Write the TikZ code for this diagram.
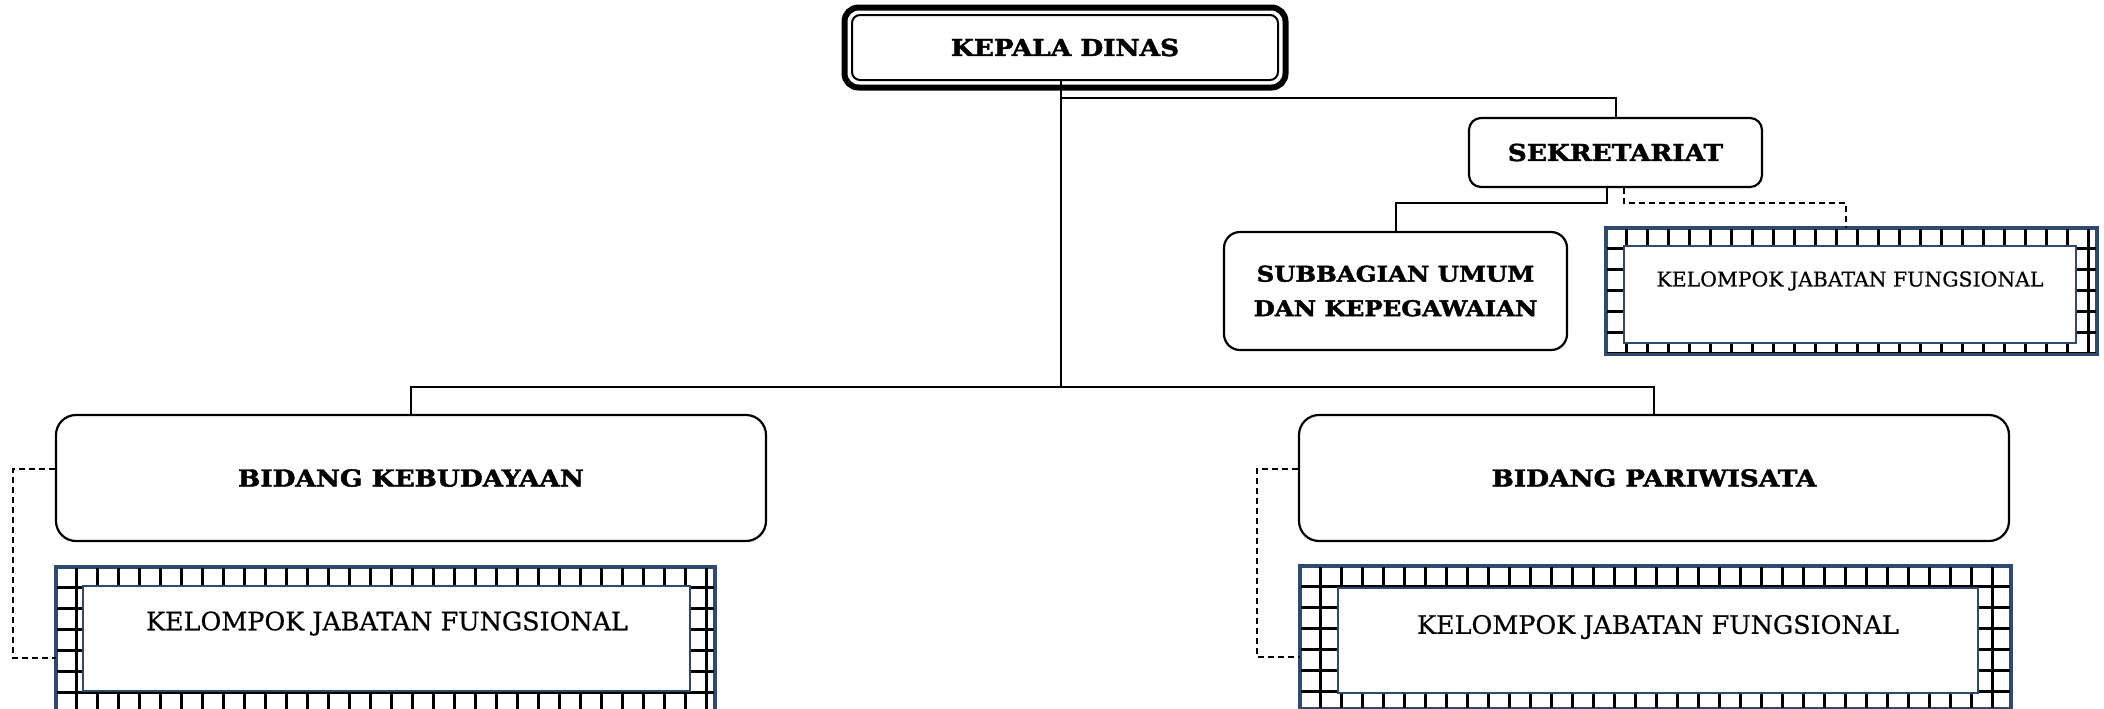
\documentclass[tikz,border=0pt]{standalone}
\usepackage{fontspec}
\newfontfamily\labfont[FakeStretch=1.13, BoldFeatures={FakeBold=2}]{DejaVu Serif}
\newfontfamily\kjffont[FakeBold=0.6]{DejaVu Serif}
\definecolor{kjfblue}{HTML}{2E4A6E}
\newcommand\kjfgrid[1]{%
  \begin{scope}
    \clip (#1.north west) rectangle (#1.south east);
    \foreach \i in {1,...,36} \draw[gridln] ([xshift=\i*10.5pt]#1.north west) -- ([xshift=\i*10.5pt]#1.south west);
    \foreach \j in {1,...,7} \draw[gridln] ([yshift=-\j*10.5pt]#1.north west) -- ([yshift=-\j*10.5pt]#1.north east);
  \end{scope}
  \draw[kjfblue, line width=1.3pt] (#1.north west) rectangle (#1.south east);
}
\begin{document}
\begin{tikzpicture}[x=0.5pt,y=-0.5pt,
  conn/.style={line width=1pt},
  dconn/.style={line width=0.9pt, dash pattern=on 3pt off 2pt},
  unitbox/.style={draw, line width=1.1pt, fill=white, font=\labfont\bfseries\fontsize{11.66}{17.25}\selectfont, align=center, inner sep=0pt},
  kjfouter/.style={draw=kjfblue, line width=1.3pt, fill=white, inner sep=0pt},
  kjfinner/.style={draw=kjfblue, line width=1.1pt, fill=white, inner sep=0pt},
  gridln/.style={line width=1.4pt, black},
  kjftext/.style={font=\kjffont\fontsize{12.7}{15}\selectfont, inner sep=0pt},
]
\useasboundingbox (0,0) rectangle (2104,708);

% Kepala Dinas
\node[unitbox, line width=1pt, rounded corners=4pt, minimum width=213pt, minimum height=32.5pt] (kd) at (1065,47.5) {KEPALA DINAS};
\draw[line width=3pt, rounded corners=7pt] ([shift={(-6.5,-6.5)}]kd.north west) rectangle ([shift={(6.5,6.5)}]kd.south east);

% Sekretariat and children
\node[unitbox, rounded corners=6pt, minimum width=146.5pt, minimum height=34.5pt] (sek) at (1615.5,152.5) {SEKRETARIAT};
\node[unitbox, rounded corners=8pt, minimum width=171.5pt, minimum height=59pt, font=\labfont\bfseries\fontsize{10.8}{17.25}\selectfont] (sub) at (1395.5,291) {SUBBAGIAN UMUM\\DAN KEPEGAWAIAN};

\node[kjfouter, minimum width=244.5pt, minimum height=62pt] (kjfA) at (1851.5,291) {};
\kjfgrid{kjfA}
\node[kjfinner, minimum width=226pt, minimum height=48.5pt] (kjfAi) at (1850,294.5) {};
\node[kjftext, font=\kjffont\fontsize{10.2}{12}\selectfont] (kjfAt) at (1850,281) {KELOMPOK JABATAN FUNGSIONAL};

% Bidang
\node[unitbox, rounded corners=10pt, minimum width=355pt, minimum height=63pt] (bk) at (411,478) {BIDANG KEBUDAYAAN};
\node[unitbox, rounded corners=10pt, minimum width=355pt, minimum height=63pt] (bp) at (1654,478) {BIDANG PARIWISATA};

\node[kjfouter, minimum width=328.5pt, minimum height=71pt] (kjfB) at (385.5,639) {};
\kjfgrid{kjfB}
\node[kjfinner, minimum width=303.5pt, minimum height=52.5pt] (kjfBi) at (386.5,638.5) {};
\node[kjftext] (kjfBt) at (387,623.5) {KELOMPOK JABATAN FUNGSIONAL};

\node[kjfouter, minimum width=354.5pt, minimum height=70.5pt] (kjfC) at (1655.5,637.5) {};
\kjfgrid{kjfC}
\node[kjfinner, minimum width=320pt, minimum height=52.5pt] (kjfCi) at (1658,640.5) {};
\node[kjftext] (kjfCt) at (1658,627) {KELOMPOK JABATAN FUNGSIONAL};

% connectors
\coordinate (j) at (1061,386.5);
\coordinate (j1) at (1061,98);
\draw[conn] (kd.south -| j) -- (j);
\draw[conn] (j1) -| (sek.north);
\draw[conn] (bk.north) |- (j) -| (bp.north);
\coordinate (s1) at (1607,203);
\draw[conn] (s1 |- sek.south) -- (s1) -| (sub.north);
\coordinate (s2) at (1624,203);
\coordinate (s3) at (1846,203);
\draw[dconn] (s2 |- sek.south) -- (s2) -- (s3) -- (s3 |- kjfA.north);
\coordinate (d1) at (13,469);
\coordinate (d2) at (13,658);
\draw[dconn] (d1 -| bk.west) -- (d1) -- (d2) -- (d2 -| kjfB.west);
\coordinate (e1) at (1257,469);
\coordinate (e2) at (1257,657);
\draw[dconn] (e1 -| bp.west) -- (e1) -- (e2) -- (e2 -| kjfC.west);
\end{tikzpicture}
\end{document}
